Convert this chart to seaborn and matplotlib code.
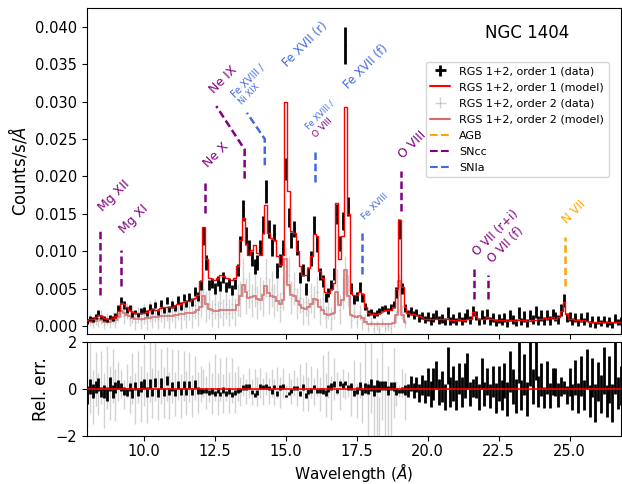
import numpy as np
import matplotlib
matplotlib.use('Agg')
import matplotlib.pyplot as plt
import seaborn as sns
from matplotlib.lines import Line2D

sns.set_style('ticks', {'axes.edgecolor': 'black', 'xtick.color': 'black', 'ytick.color': 'black',
                        'text.color': 'black', 'axes.labelcolor': 'black'})
plt.rcParams['font.family'] = ['DejaVu Sans']
plt.rcParams['mathtext.fontset'] = 'dejavusans'

# bin centres (Angstrom), 0.1 A bins
wave1 = np.arange(80, 269) / 10.0
wave2 = np.arange(80, 193) / 10.0

# RGS 1+2 order 1, units of 1e-3 counts/s/A
model1 = [0.8, 0.9, 1.0, 1.2, 1.5, 1.4, 1.1, 1.0, 1.0, 1.1,
          1.3, 2.0, 3.1, 3.0, 2.5, 2.2, 1.9, 1.7, 1.7, 1.8,
          1.8, 1.9, 2.1, 2.3, 2.2, 2.2, 2.4, 2.5, 2.5, 2.6,
          2.6, 2.8, 3.0, 3.0, 3.2, 3.4, 3.3, 3.6, 3.8, 4.2,
          6.0, 13.2, 9.0, 6.5, 6.3, 6.2, 6.4, 6.8, 6.7, 6.4,
          6.3, 6.2, 6.5, 8.0, 11.5, 14.4, 11.0, 9.5, 10.2, 10.9,
          9.8, 9.5, 12.5, 16.2, 12.5, 11.8, 11.5, 9.4, 8.2, 9.5,
          30.0, 18.0, 12.7, 12.5, 10.0, 8.0, 6.9, 6.8, 7.8, 9.4,
          12.3, 12.0, 7.4, 6.5, 4.5, 4.4, 5.0, 5.8, 16.4, 9.0,
          12.0, 29.3, 15.0, 4.5, 4.2, 4.2, 4.6, 4.3, 2.5, 1.8,
          1.6, 1.6, 1.6, 1.8, 2.0, 2.1, 2.1, 2.2, 2.6, 5.0,
          14.2, 5.2, 2.5, 1.8, 1.6, 1.6, 1.5, 1.3, 1.2, 1.0,
          1.0, 0.9, 0.9, 1.0, 0.9, 0.9, 0.9, 0.9, 0.8, 0.8,
          0.8, 0.9, 0.8, 0.8, 0.9, 1.0, 1.9, 1.3, 0.9, 0.9,
          1.0, 1.2, 1.0, 0.9, 0.8, 0.8, 0.8, 0.8, 0.7, 0.8,
          0.8, 0.7, 0.8, 0.8, 0.8, 0.7, 0.7, 0.8, 0.8, 0.9,
          1.0, 1.1, 1.0, 1.1, 1.2, 1.0, 1.2, 2.0, 3.2, 1.6,
          1.0, 0.9, 0.8, 0.8, 0.7, 0.8, 0.7, 0.6, 0.6, 0.5,
          0.6, 0.5, 0.5, 0.6, 0.5, 0.5, 0.5, 0.6, 0.6]
data1 = [0.6, 1.0, 0.9, 1.3, 1.8, 1.2, 1.0, 0.8, 1.2, 1.0,
         1.4, 2.4, 3.4, 2.8, 2.2, 2.4, 1.6, 1.9, 1.5, 2.0,
         2.2, 1.7, 2.6, 2.0, 2.8, 1.9, 3.0, 2.2, 3.4, 2.3,
         2.9, 2.4, 3.5, 2.7, 3.8, 3.0, 3.9, 3.2, 4.6, 3.9,
         5.5, 12.0, 8.5, 5.5, 5.8, 5.0, 6.0, 5.4, 6.5, 5.2,
         5.8, 4.8, 5.6, 7.5, 11.0, 15.5, 12.0, 10.5, 9.0, 8.0,
         8.5, 10.5, 13.5, 18.0, 13.0, 10.5, 12.5, 7.5, 8.8, 10.5,
         21.0, 14.5, 11.5, 13.0, 10.5, 6.5, 7.5, 5.0, 7.0, 9.0,
         13.5, 11.0, 7.0, 6.0, 3.8, 4.5, 5.5, 7.0, 15.0, 11.0,
         14.0, 37.5, 16.0, 5.0, 3.5, 4.0, 5.2, 3.8, 2.6, 1.8,
         1.9, 1.5, 1.8, 2.0, 2.3, 2.4, 2.0, 2.5, 2.9, 4.5,
         13.0, 5.0, 2.4, 1.7, 2.0, 1.5, 1.8, 1.1, 1.4, 0.9,
         1.3, 0.7, 1.1, 1.6, 0.8, 1.0, 0.6, 1.8, 0.7, 1.0,
         0.6, 1.3, 0.7, 1.1, 1.6, 0.8, 2.0, 1.4, 0.6, 1.5,
         0.8, 1.6, 0.7, 1.2, 0.5, 1.0, 0.6, 1.1, 0.4, 1.4,
         0.9, 0.5, 1.8, 0.6, 1.3, 0.4, 1.5, 0.9, 1.9, 0.8,
         1.4, 0.7, 1.5, 0.8, 1.6, 1.3, 0.9, 2.2, 3.4, 1.2,
         1.3, 0.6, 1.2, 0.5, 1.1, 0.6, 1.3, 0.3, 0.9, 0.2,
         0.8, 0.4, 0.9, 0.3, 0.7, 0.2, 1.0, 0.5, 0.7]
err1 = [0.3, 0.3, 0.3, 0.3, 0.4, 0.3, 0.3, 0.3, 0.3, 0.3,
        0.3, 0.4, 0.5, 0.5, 0.4, 0.4, 0.4, 0.3, 0.3, 0.4,
        0.4, 0.4, 0.4, 0.4, 0.4, 0.4, 0.5, 0.4, 0.5, 0.4,
        0.5, 0.4, 0.5, 0.5, 0.5, 0.5, 0.5, 0.5, 0.6, 0.6,
        0.7, 1.2, 1.0, 0.7, 0.7, 0.7, 0.7, 0.7, 0.8, 0.7,
        0.7, 0.7, 0.7, 0.8, 1.1, 1.4, 1.2, 1.0, 1.0, 1.0,
        1.0, 1.0, 1.2, 1.5, 1.2, 1.1, 1.1, 1.0, 0.9, 1.0,
        1.5, 1.3, 1.1, 1.1, 1.0, 0.8, 0.8, 0.8, 0.9, 1.0,
        1.2, 1.1, 0.8, 0.8, 0.6, 0.6, 0.7, 0.8, 1.3, 1.0,
        1.2, 2.5, 1.3, 0.7, 0.6, 0.6, 0.7, 0.6, 0.5, 0.4,
        0.4, 0.4, 0.4, 0.4, 0.4, 0.4, 0.4, 0.4, 0.5, 0.7,
        1.3, 0.7, 0.5, 0.5, 0.5, 0.5, 0.5, 0.5, 0.5, 0.5,
        0.6, 0.5, 0.6, 0.6, 0.5, 0.6, 0.5, 0.7, 0.5, 0.6,
        0.5, 0.6, 0.5, 0.6, 0.7, 0.5, 0.7, 0.6, 0.5, 0.6,
        0.5, 0.7, 0.5, 0.6, 0.5, 0.6, 0.5, 0.6, 0.5, 0.7,
        0.6, 0.5, 0.8, 0.5, 0.7, 0.5, 0.7, 0.6, 0.8, 0.6,
        0.7, 0.5, 0.7, 0.6, 0.7, 0.6, 0.6, 0.8, 0.9, 0.6,
        0.6, 0.5, 0.6, 0.5, 0.6, 0.5, 0.6, 0.4, 0.5, 0.4,
        0.5, 0.4, 0.5, 0.4, 0.5, 0.4, 0.6, 0.4, 0.5]

# RGS 1+2 order 2, units of 1e-3 counts/s/A
model2 = [0.5, 0.5, 0.6, 0.7, 0.9, 0.8, 0.6, 0.6, 0.6, 0.7,
          0.8, 1.2, 2.0, 1.8, 1.5, 1.3, 1.1, 1.0, 1.0, 1.0,
          1.0, 1.1, 1.1, 1.2, 1.2, 1.2, 1.3, 1.3, 1.4, 1.4,
          1.4, 1.5, 1.5, 1.6, 1.6, 1.7, 1.7, 1.8, 1.9, 2.1,
          2.6, 4.0, 3.0, 2.3, 2.1, 2.0, 2.0, 2.2, 2.2, 2.1,
          2.1, 2.1, 2.2, 2.8, 4.0, 5.5, 4.5, 3.8, 3.9, 4.0,
          3.6, 3.5, 4.2, 5.3, 4.4, 4.0, 3.9, 3.3, 3.0, 3.5,
          9.0, 5.5, 4.2, 4.0, 3.4, 2.8, 2.4, 2.3, 2.5, 2.9,
          3.6, 3.5, 2.5, 2.2, 1.6, 1.5, 1.6, 1.8, 4.5, 2.8,
          3.5, 7.5, 4.0, 1.5, 1.3, 1.2, 1.3, 1.1, 0.5, 0.3,
          0.3, 0.3, 0.3, 0.3, 0.3, 0.3, 0.3, 0.3, 0.4, 1.5,
          6.0, 1.5, 0.6]
data2 = [0.3, 0.8, 0.4, 1.0, 0.7, 1.2, 0.3, 0.9, 0.5, 1.1,
         0.6, 1.6, 2.4, 1.4, 2.0, 1.0, 1.6, 0.6, 1.5, 0.8,
         1.6, 0.7, 1.9, 1.0, 2.1, 0.9, 2.0, 1.1, 2.3, 1.0,
         2.2, 1.2, 2.4, 1.1, 2.5, 1.4, 2.6, 1.3, 2.8, 1.8,
         3.2, 5.0, 2.6, 3.0, 1.7, 3.0, 1.6, 3.1, 1.8, 3.0,
         1.8, 2.9, 1.9, 3.5, 3.6, 6.5, 4.0, 4.8, 3.4, 5.0,
         3.2, 4.4, 3.8, 6.5, 4.0, 5.0, 3.4, 4.2, 2.6, 4.4,
         8.0, 6.8, 3.8, 5.0, 3.0, 3.8, 2.0, 3.2, 2.0, 3.8,
         3.2, 4.6, 2.0, 3.6, 1.2, 2.4, 1.0, 2.6, 5.5, 2.2,
         4.4, 6.8, 4.8, 0.8, 1.9, 0.6, 1.8, 0.4, 1.0, -0.2,
         0.6, -0.3, 0.1, -0.4, 0.5, -0.2, 0.0, -0.3, 0.5, 1.2,
         5.5, 1.9, 0.4]
err2 = [0.6, 0.8, 0.7, 0.8, 0.8, 0.9, 0.7, 0.8, 0.7, 0.8,
        0.9, 1.0, 1.2, 1.1, 1.1, 1.0, 1.2, 1.1, 1.1, 1.2,
        1.3, 1.2, 1.4, 1.3, 1.5, 1.3, 1.5, 1.4, 1.6, 1.4,
        1.6, 1.4, 1.6, 1.5, 1.7, 1.6, 1.8, 1.6, 1.8, 1.8,
        2.0, 2.4, 2.1, 2.0, 1.8, 2.0, 1.8, 2.0, 1.8, 2.0,
        1.8, 2.0, 1.9, 2.1, 2.4, 2.6, 2.4, 2.4, 2.2, 2.4,
        2.2, 2.2, 2.4, 2.6, 2.4, 2.4, 2.2, 2.2, 2.0, 2.2,
        2.6, 2.4, 2.2, 2.2, 2.1, 2.0, 1.8, 1.8, 1.8, 2.0,
        2.1, 2.1, 1.8, 1.8, 1.5, 1.5, 1.5, 1.6, 2.2, 1.9,
        2.1, 2.6, 2.1, 1.0, 1.0, 0.9, 1.0, 0.9, 0.6, 0.6,
        0.6, 0.6, 0.6, 0.6, 0.6, 0.6, 0.6, 0.6, 0.6, 0.8,
        1.5, 0.9, 0.6]

m1 = np.array(model1) * 1e-3
d1 = np.array(data1) * 1e-3
e1 = np.array(err1) * 1e-3
m2 = np.array(model2) * 1e-3
d2 = np.array(data2) * 1e-3
e2 = np.array(err2) * 1e-3

src_color = {'AGB': 'orange', 'SNcc': 'purple', 'SNIa': 'royalblue'}

fig = plt.figure(figsize=(6.22, 4.84), dpi=100)
ax = fig.add_axes([0.14, 0.3097, 0.858, 0.6738])
ax2 = fig.add_axes([0.14, 0.099, 0.858, 0.1942], sharex=ax)

# spectrum
h_d2 = ax.errorbar(wave2, d2, yerr=e2, xerr=0.02, fmt='none', ecolor='gray', elinewidth=1, alpha=0.35, zorder=1)
sns.lineplot(x=wave2, y=m2, ax=ax, color='#d46a6a', lw=1.5, alpha=0.8, drawstyle='steps-mid', zorder=2)
h_d1 = ax.errorbar(wave1, d1, yerr=e1, xerr=0.02, fmt='none', ecolor='black', elinewidth=2, zorder=3)
sns.lineplot(x=wave1, y=m1, ax=ax, color='red', lw=1, drawstyle='steps-mid', zorder=4)

# line identifications: text, source, text anchor (wave, flux), size, dashed path
ids = [
    ('Mg XII', 'SNcc', 8.31, 0.0150, 9, [8.45, 8.45], [0.0041, 0.0128]),
    ('Mg XI', 'SNcc', 9.05, 0.0121, 9, [9.19, 9.19], [0.0054, 0.0102]),
    ('Ne X', 'SNcc', 12.02, 0.0208, 9, [12.17, 12.17], [0.0151, 0.0192]),
    ('Ne IX', 'SNcc', 12.23, 0.0307, 9, [13.55, 13.55, 12.55], [0.0197, 0.0236, 0.0294]),
    ('Fe XVIII /', 'SNIa', 13.03, 0.0302, 7, [14.26, 14.26, 13.63], [0.0215, 0.0250, 0.0285]),
    ('Ni XIX', 'SNIa', 13.28, 0.0294, 6, None, None),
    ('Fe XVII (r)', 'SNIa', 14.82, 0.0343, 8.5, None, None),
    ('Fe XVII (f)', 'SNIa', 16.95, 0.0313, 8.5, None, None),
    ('Fe XVIII /', 'SNIa', 15.62, 0.0260, 6, [16.04, 16.04], [0.0193, 0.0234]),
    ('O VIII', 'SNcc', 15.9, 0.0250, 6.5, None, None),
    ('Fe XVIII', 'SNIa', 17.62, 0.0140, 6.5, [17.69, 17.69], [0.0070, 0.0124]),
    ('O VIII', 'SNcc', 18.87, 0.0221, 9, [19.05, 19.05], [0.0154, 0.0207]),
    ('O VII (r+i)', 'SNcc', 21.5, 0.0091, 8.5, [21.64, 21.64], [0.0036, 0.0078]),
    ('O VII (f)', 'SNcc', 22.02, 0.0081, 8.5, [22.13, 22.13], [0.0036, 0.0068]),
    ('N VII', 'AGB', 24.64, 0.0134, 8.5, [24.82, 24.82], [0.0053, 0.0119]),
]
for name, src, tx, ty, fs, px, py in ids:
    ax.text(tx, ty, name, color=src_color[src], fontsize=fs, rotation=45, ha='left', va='bottom', zorder=6)
    if px is not None:
        ax.plot(px, py, color=src_color[src], lw=1.8, dashes=(3, 1.5), zorder=6)

ax.text(0.824, 0.924, 'NGC 1404', transform=ax.transAxes, fontsize=12, ha='center', va='center')

ax.set_xlim(8.0, 26.8)
ax.set_ylim(-0.00106, 0.0425)
ax.set_yticks([0.0, 0.005, 0.01, 0.015, 0.02, 0.025, 0.03, 0.035, 0.04])
ax.yaxis.set_major_formatter(matplotlib.ticker.FormatStrFormatter('%.3f'))
ax.set_ylabel(r'Counts/s/$\AA$', fontsize=12)
ax.set_xlabel('')
ax.tick_params(labelbottom=False, labelsize=10.5)

handles = [h_d1,
           Line2D([], [], color='red', lw=1.5),
           h_d2,
           Line2D([], [], color='#d46a6a', lw=1.5),
           Line2D([], [], color=src_color['AGB'], lw=1.5, ls='--'),
           Line2D([], [], color=src_color['SNcc'], lw=1.5, ls='--'),
           Line2D([], [], color=src_color['SNIa'], lw=1.5, ls='--')]
labels = ['RGS 1+2, order 1 (data)', 'RGS 1+2, order 1 (model)', 'RGS 1+2, order 2 (data)',
          'RGS 1+2, order 2 (model)', 'AGB', 'SNcc', 'SNIa']
ax.legend(handles, labels, loc='upper right', bbox_to_anchor=(0.9875, 0.852), fontsize=8,
          frameon=True, handlelength=1.8, borderpad=0.4, labelspacing=0.55)

# relative residuals
res1 = (d1 - m1) / m1
res2 = (d2 - m2) / m2
ax2.errorbar(wave2, res2, yerr=e2 / m2, fmt='none', ecolor='gray', elinewidth=1, alpha=0.35, zorder=1)
ax2.errorbar(wave1, res1, yerr=e1 / m1, fmt='none', ecolor='black', elinewidth=2, zorder=3)
ax2.axhline(0, color='red', lw=1.2, zorder=4)
ax2.set_ylim(-2, 2)
ax2.set_yticks([-2, 0, 2])
ax2.set_xticks([10.0, 12.5, 15.0, 17.5, 20.0, 22.5, 25.0])
ax2.xaxis.set_major_formatter(matplotlib.ticker.FormatStrFormatter('%.1f'))
ax2.tick_params(labelsize=10.5)
ax2.tick_params(axis='x', pad=2.5)
ax2.set_ylabel('Rel. err.', fontsize=12)
ax2.set_xlabel(r'Wavelength ($\AA$)', fontsize=11)
ax2.xaxis.set_label_coords(0.5, -0.26)

fig.savefig('out.png', dpi=100)
